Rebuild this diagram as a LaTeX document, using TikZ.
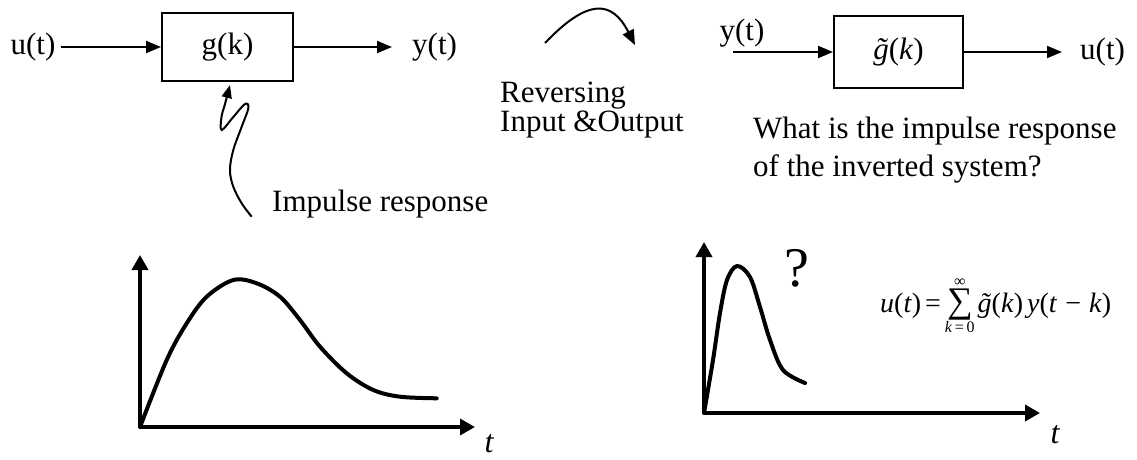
\documentclass[tikz,border=0pt]{standalone}
\usepackage{fontspec}
\setmainfont{Liberation Serif}
\usetikzlibrary{arrows.meta}
\newcommand{\gtil}{{\itshape\accent"02DC g}}
\begin{document}
\begin{tikzpicture}[x=1pt,y=-1pt,
  txt/.style={font=\fontsize{31}{31}\selectfont, inner sep=2pt},
  para/.style={font=\fontsize{31}{27}\selectfont, align=left, inner sep=0pt},
  blk/.style={draw, line width=2pt, font=\fontsize{31}{31}\selectfont, inner sep=0pt},
  conn/.style={line width=2pt, -{Triangle[length=15pt,width=12pt]}},
  wig/.style={line width=2pt, -{Triangle[length=13pt,width=10pt]}},
  axis/.style={line width=3.5pt, -{Triangle[length=15pt,width=16pt]}},
  curve/.style={line width=4pt, line cap=round, line join=round},
  tlab/.style={font=\fontsize{32}{32}\selectfont\itshape, inner sep=0pt}
]
\useasboundingbox (0,0) rectangle (1137,460);

% ---- first system ----
\node[txt, inner sep=5pt] (u1) at (33,47) {u(t)};
\node[blk, minimum width=131pt, minimum height=67pt] (g1) at (227.5,47) {g(k)};
\node[txt, anchor=west, inner sep=0pt] (y1) at (412,47) {y(t)};
\draw[conn] (u1) -- (g1);
\draw[conn, shorten >=20pt] (g1) -- (y1);

% wiggle arrow from "Impulse response"
\coordinate (wstart) at (251.7,216.7);
\coordinate (wtip) at (230,85);
\draw[wig] plot[smooth, tension=0.6] coordinates {(wstart) (241.7,203.3) (233.3,186.7) (230,170) (233.3,150) (241.7,126.7) (248.3,108.3) (245,104) (233.3,117) (221.7,130) (221.5,117) (225,104) (wtip)};
\node[txt, anchor=base west, inner sep=0pt] (imp) at (272,211) {Impulse response};

% ---- reversing arrow ----
\coordinate (ra) at (545,43);
\coordinate (rb) at (635,45);
\draw[conn] (ra) .. controls (588,-2) and (612,0) .. (rb);
\node[para, anchor=north west] (rev) at (500,82) {Reversing\\Input \&Output};

% ---- second system ----
\node[txt] (y2) at (742,33) {y(t)};
\coordinate (yin) at (733,52);
\node[blk, minimum width=129pt, minimum height=71pt] (g2) at (898.5,52) {\gtil(\textit{k})};
\node[txt, anchor=west, inner sep=0pt] (u2) at (1080,52) {u(t)};
\draw[conn] (yin) -- (g2);
\draw[conn, shorten >=18pt] (g2) -- (u2);
\node[para, anchor=north west, font=\fontsize{31}{38}\selectfont] (q) at (753,117) {What is the impulse response\\of the inverted system?};

% ---- left plot ----
\coordinate (o1) at (140,427);
\coordinate (v1) at (140,255);
\coordinate (h1) at (475,427);
\draw[axis] (o1) -- (v1);
\draw[axis] (o1) -- (h1);
\node[tlab] (t1) at (489,444) {t};
\draw[curve] plot[smooth, tension=0.55] coordinates {(o1) (166.7,360) (186.7,323.3) (206.7,296.7) (233.3,280) (256.7,283.3) (280,296.7) (300,320) (320,346.7) (346.7,373.3) (373.3,390) (400,396.7) (436.7,398.3)};

% ---- right plot ----
\coordinate (o2) at (704,413);
\coordinate (v2) at (704,242);
\coordinate (h2) at (1040,413);
\draw[axis] (o2) -- (v2);
\draw[axis] (o2) -- (h2);
\node[tlab] (t2) at (1055,435) {t};
\draw[curve] plot[smooth, tension=0.55] coordinates {(o2) (713,360) (720,313) (727,280) (737,266) (750,277) (760,307) (770,340) (783,370) (805,383)};
\node[font=\fontsize{56}{56}\selectfont, inner sep=0pt] (qm) at (797,268) {?};

% ---- formula ----
\node[anchor=base west, inner sep=0pt, font=\fontsize{28}{30}\selectfont] (eq) at (880,312)
  {\textit{u}(\textit{t})\hspace{4pt}=\hspace{4pt}$\mathop{\hbox{\fontsize{36}{36}\selectfont\char"2211}}\limits^{\hbox{\fontsize{16}{16}\selectfont\char"221E}}_{\hbox{\fontsize{16}{16}\selectfont\textit{k}\,=\,0}}$\hspace{3pt}\gtil(\textit{k})\hspace{4pt}\textit{y}(\textit{t}\hspace{8pt}\char"2212\hspace{8pt}\textit{k})};
\end{tikzpicture}
\end{document}
